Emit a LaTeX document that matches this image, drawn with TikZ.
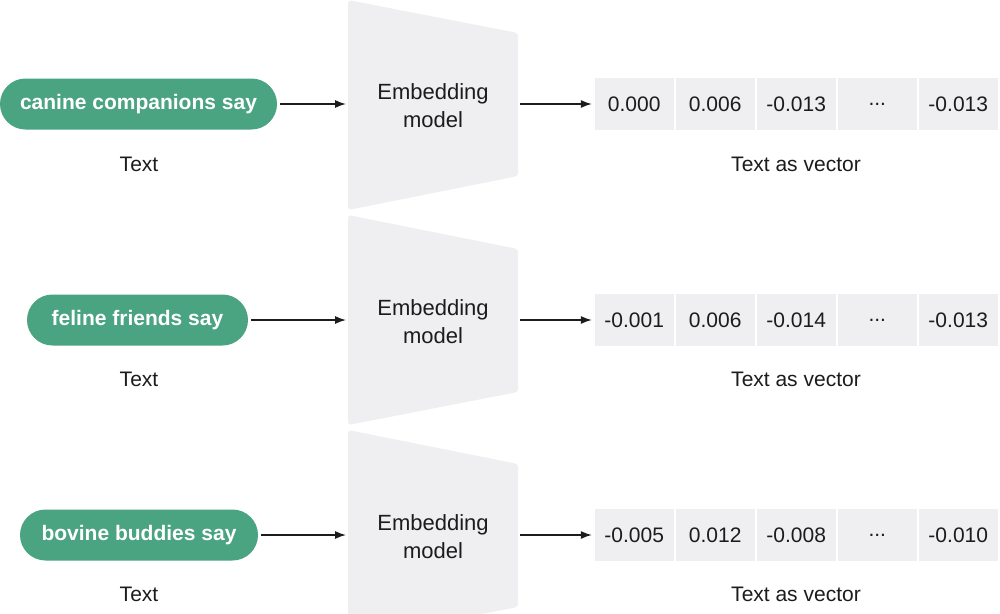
\documentclass[tikz,border=0pt]{standalone}
\usepackage{fontspec}
\setmainfont{Liberation Sans}
\usetikzlibrary{arrows.meta}
\definecolor{pillgreen}{HTML}{4AA381}
\definecolor{boxgray}{HTML}{EFEFF1}
\definecolor{ink}{HTML}{1C1C1C}
\begin{document}
\begin{tikzpicture}[x=1pt,y=-1pt,
  pill/.style={fill=pillgreen, text=white, font=\fontsize{21}{25}\selectfont\bfseries, rounded corners=25.5pt, minimum height=51pt, inner sep=0pt},
  lbl/.style={text=ink, font=\fontsize{21}{27}\selectfont, inner sep=0pt},
  mlbl/.style={text=ink, font=\fontsize{22}{28}\selectfont, inner sep=0pt, align=center},
  cell/.style={fill=boxgray, minimum width=78.5pt, minimum height=52pt, inner sep=0pt, text=ink, font=\fontsize{21}{25}\selectfont},
  trap/.style={fill=boxgray, draw=none, rounded corners=3pt},
  conn/.style={line width=1.3pt, draw=ink, -{Latex[length=11pt,width=8pt]}},
]
\useasboundingbox (0,0) rectangle (1000,613);
\clip (0,0) rectangle (1000,613);

% ---------- Row 1 ----------
\fill[trap] (348,0) -- (518,33) -- (518,176) -- (348,210) -- cycle;
\coordinate (e1in) at (348,104);
\coordinate (e1out) at (518,104);
\node[mlbl] (m1) at (433,106) {Embedding\\model};
\node[pill, minimum width=277pt] (p1) at (138.5,104) {canine companions say};
\node[lbl] (t1) at (139,164) {Text};
\node[cell] (c11) at (634.25,104) {0.000};
\node[cell] (c12) at (715.25,104) {0.006};
\node[cell] (c13) at (796.25,104) {-0.013};
\node[cell] (c14) at (877.25,104) {...};
\node[cell] (c15) at (958.25,104) {-0.013};
\node[lbl] (v1) at (796,164) {Text as vector};
\draw[conn, shorten <=3pt, shorten >=2pt] (p1.east) -- (e1in);
\draw[conn, shorten <=2pt, shorten >=3pt] (e1out) -- (c11.west);

% ---------- Row 2 ----------
\fill[trap] (348,215) -- (518,249) -- (518,392) -- (348,425) -- cycle;
\coordinate (e2in) at (348,320);
\coordinate (e2out) at (518,320);
\node[mlbl] (m2) at (433,321.5) {Embedding\\model};
\node[pill, minimum width=221pt] (p2) at (137.5,320) {feline friends say};
\node[lbl] (t2) at (139,379.5) {Text};
\node[cell] (c21) at (634.25,320) {-0.001};
\node[cell] (c22) at (715.25,320) {0.006};
\node[cell] (c23) at (796.25,320) {-0.014};
\node[cell] (c24) at (877.25,320) {...};
\node[cell] (c25) at (958.25,320) {-0.013};
\node[lbl] (v2) at (796,379.5) {Text as vector};
\draw[conn, shorten <=3pt, shorten >=2pt] (p2.east) -- (e2in);
\draw[conn, shorten <=2pt, shorten >=3pt] (e2out) -- (c21.west);

% ---------- Row 3 ----------
\fill[trap] (348,430) -- (518,464) -- (518,607) -- (348,640) -- cycle;
\coordinate (e3in) at (348,535);
\coordinate (e3out) at (518,535);
\node[mlbl] (m3) at (433,536.5) {Embedding\\model};
\node[pill, minimum width=238pt] (p3) at (139,535) {bovine buddies say};
\node[lbl] (t3) at (139,594.5) {Text};
\node[cell] (c31) at (634.25,535) {-0.005};
\node[cell] (c32) at (715.25,535) {0.012};
\node[cell] (c33) at (796.25,535) {-0.008};
\node[cell] (c34) at (877.25,535) {...};
\node[cell] (c35) at (958.25,535) {-0.010};
\node[lbl] (v3) at (796,594.5) {Text as vector};
\draw[conn, shorten <=3pt, shorten >=2pt] (p3.east) -- (e3in);
\draw[conn, shorten <=2pt, shorten >=3pt] (e3out) -- (c31.west);
\end{tikzpicture}
\end{document}
